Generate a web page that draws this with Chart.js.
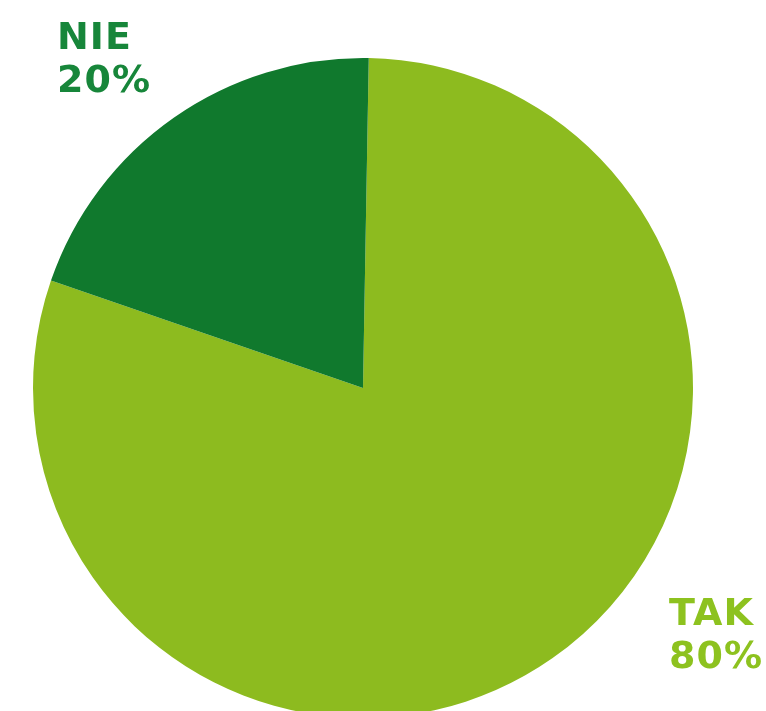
<!DOCTYPE html>
<html>
<head>
<meta charset="utf-8">
<script src="https://cdn.jsdelivr.net/npm/chart.js@4"></script>
<style>
    html, body {
        margin: 0;
        padding: 0;
        background: #ffffff;
        overflow: hidden;
    }
    #wrap {
        position: relative;
        width: 766px;
        height: 740px;
    }
</style>
</head>
<body>
<div id="wrap">
    <canvas id="myChartPie"></canvas>
</div>
<script>
const labels = ['TAK', 'NIE'];
const values = [80, 20];
const colors = ['#8dbb1f', '#10792d'];
const textColors = ['#8dc21f', '#17863a'];

// labels drawn outside the pie, positions as fraction of the canvas
const labelPlugin = {
    id: 'outerLabels',
    afterDraw(chart) {
        const c = chart.ctx;
        const spots = [
            { x: 669 / 766, y: 600 / 740 },
            { x: 57 / 766, y: 24 / 740 },
        ];
        c.save();
        c.font = 'bold 38px "DejaVu Sans"';
        c.letterSpacing = '1px';
        c.textBaseline = 'top';
        c.textAlign = 'left';
        labels.forEach((lab, i) => {
            const x = spots[i].x * chart.width;
            const y = spots[i].y * chart.height;
            c.fillStyle = textColors[i];
            c.fillText(lab, x, y - 4);
            c.fillText(values[i] + '%', x, y + 39);
        });
        c.restore();
    }
};

new Chart(document.getElementById('myChartPie'), {
    type: 'pie',
    data: {
        labels: labels,
        datasets: [{
            data: values,
            backgroundColor: colors,
            borderWidth: 0,
        }]
    },
    plugins: [labelPlugin],
    options: {
        responsive: true,
        maintainAspectRatio: false,
        animation: false,
        rotation: 1,
        layout: {
            padding: { left: 33, right: 73, top: 58, bottom: 22 }
        },
        plugins: {
            legend: { display: false },
            tooltip: { enabled: false },
        },
    },
});
</script>
</body>
</html>
